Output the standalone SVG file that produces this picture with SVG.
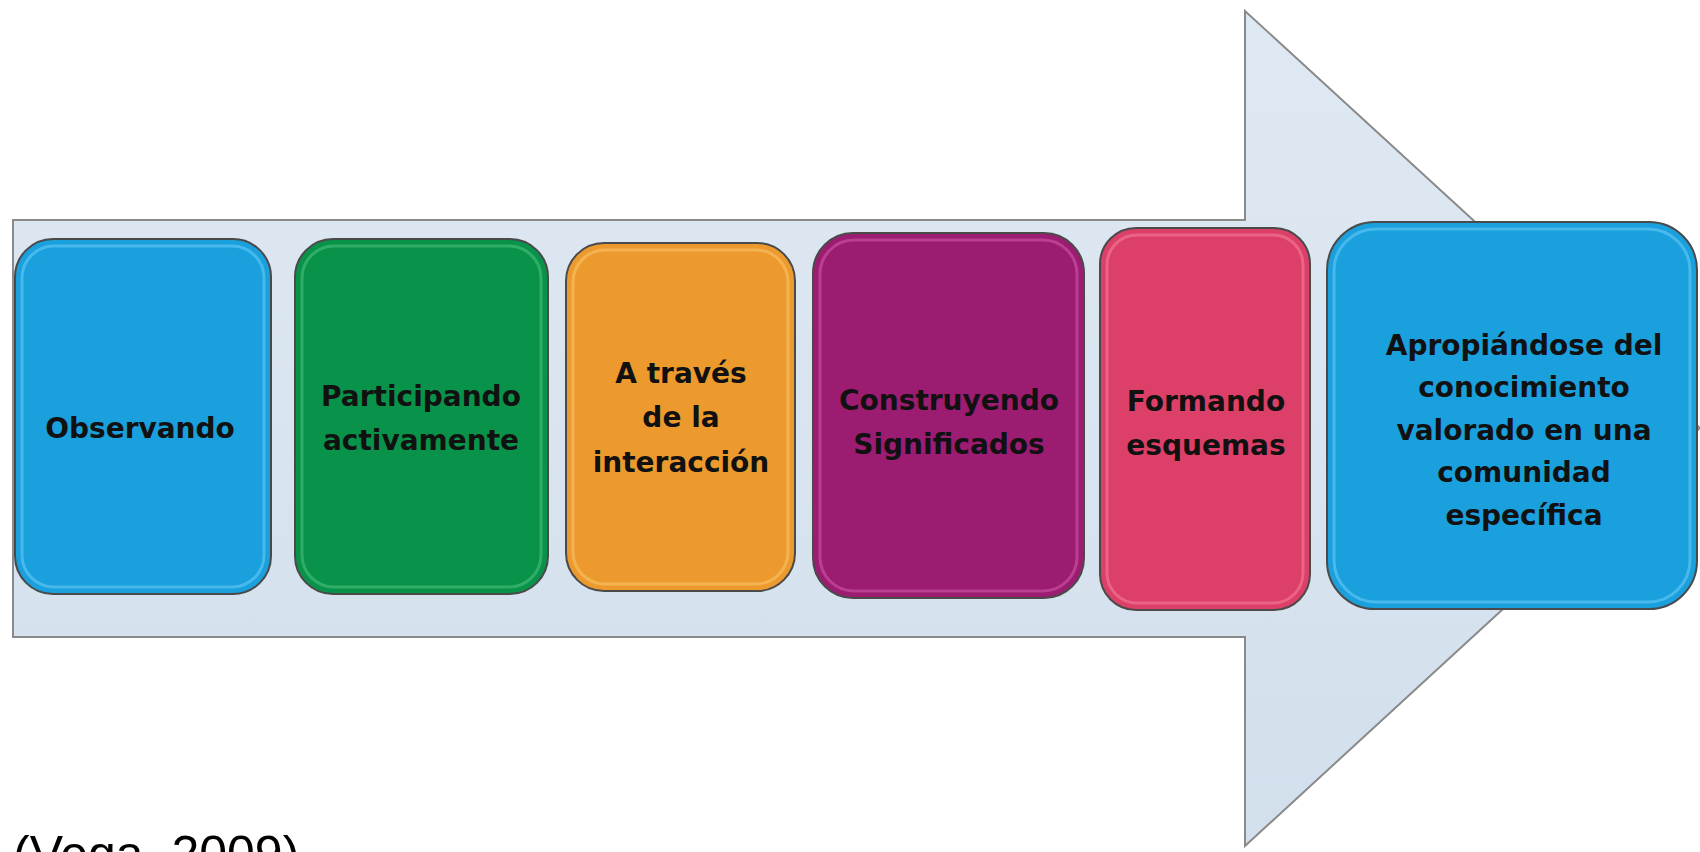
<svg xmlns="http://www.w3.org/2000/svg" width="1700" height="852" viewBox="0 0 1700 852">
<style>
.box{stroke:#4a4a4a;stroke-width:2}
.hl{fill:none;stroke-width:3;stroke-opacity:0.45}
.t{font-family:"DejaVu Sans","Liberation Sans",sans-serif;font-weight:bold;font-size:28px;fill:#111;text-anchor:middle}
.cite{font-family:"Liberation Sans",Arial,sans-serif;font-size:50px;fill:#000}
</style>
<defs>
<linearGradient id="arrowFill" x1="0" y1="0" x2="0" y2="1">
<stop offset="0" stop-color="#dfe9f3"/>
<stop offset="1" stop-color="#d2dfec"/>
</linearGradient>
</defs>
<rect width="1700" height="852" fill="#ffffff"/>
<g id="arrow">
<path d="M13,220 L1245,220 L1245,11 L1700,428 L1245,846 L1245,637 L13,637 Z" fill="url(#arrowFill)" stroke="#8a8a8a" stroke-width="2"/>
</g>
<g id="connectors"></g>
<g id="n1">
<rect class="box" x="15" y="239" width="256" height="355" rx="38" fill="#1aa0dc"/>
<rect class="hl" x="22" y="246" width="242" height="341" rx="32" stroke="#7fd8ff"/>
<text class="t" x="140" y="438">Observando</text>
</g>
<g id="n2">
<rect class="box" x="295" y="239" width="253" height="355" rx="38" fill="#09924a"/>
<rect class="hl" x="302" y="246" width="239" height="341" rx="32" stroke="#62d08e"/>
<text class="t" x="421" y="406">Participando</text>
<text class="t" x="421" y="450">activamente</text>
</g>
<g id="n3">
<rect class="box" x="566" y="243" width="229" height="348" rx="38" fill="#ec9a2e"/>
<rect class="hl" x="573" y="250" width="215" height="334" rx="32" stroke="#ffd07a"/>
<text class="t" x="681" y="383">A través</text>
<text class="t" x="681" y="427">de la</text>
<text class="t" x="681" y="472">interacción</text>
</g>
<g id="n4">
<rect class="box" x="813" y="233" width="271" height="365" rx="40" fill="#9c1c72"/>
<rect class="hl" x="820" y="240" width="257" height="351" rx="34" stroke="#e06ab8"/>
<text class="t" x="949" y="410">Construyendo</text>
<text class="t" x="949" y="454">Significados</text>
</g>
<g id="n5">
<rect class="box" x="1100" y="228" width="210" height="382" rx="36" fill="#dc4068"/>
<rect class="hl" x="1107" y="235" width="196" height="368" rx="30" stroke="#ff8fb0"/>
<text class="t" x="1206" y="411">Formando</text>
<text class="t" x="1206" y="455">esquemas</text>
</g>
<g id="n6">
<rect class="box" x="1327" y="222" width="370" height="387" rx="48" fill="#1aa0dc"/>
<rect class="hl" x="1334" y="229" width="356" height="373" rx="42" stroke="#7fd8ff"/>
<text class="t" x="1524" y="355">Apropiándose del</text>
<text class="t" x="1524" y="397">conocimiento</text>
<text class="t" x="1524" y="440">valorado en una</text>
<text class="t" x="1524" y="482">comunidad</text>
<text class="t" x="1524" y="525">específica</text>
</g>
<text class="cite" x="13" y="871">(Vega, 2009)</text>
</svg>
